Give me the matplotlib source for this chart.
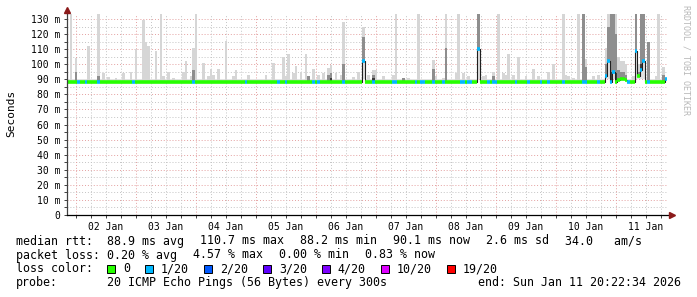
import matplotlib
matplotlib.use("Agg")
import matplotlib.pyplot as plt
import numpy as np

# time is in hours since 01 Jan 00:00
START_H = 20.4
END_H = 260.4
DAY_LABELS = ["02 Jan", "03 Jan", "04 Jan", "05 Jan", "06 Jan",
              "07 Jan", "08 Jan", "09 Jan", "10 Jan", "11 Jan"]
Y_TICKS = [0, 10, 20, 30, 40, 50, 60, 70, 80, 90, 100, 110, 120, 130]

MEDIAN_BASE_MS = 88.4
SMOKE_FLOOR_MS = 90.0

# smoke spikes: max ping, upper dense part, lower dense part (0 = none)
spike_hour = [22.1, 24.0, 29.1, 33.3, 35.2, 37.2, 40.0, 42.7, 45.6, 48.3,
              50.4, 51.6, 53.3, 56.3, 57.6, 58.8, 60.7, 62.4, 67.2, 68.3,
              69.9, 71.3, 72.3, 74.7, 75.3, 77.3, 78.0, 79.2, 81.1, 84.3,
              86.4, 88.3, 93.3, 100.3, 102.9, 106.4, 108.3, 109.3, 110.7, 112.3,
              113.9, 116.3, 117.3, 119.3, 121.3, 122.4, 125.1, 126.3, 128.3, 129.6,
              131.3, 135.3, 137.3, 138.9, 140.7, 142.9, 144.3, 146.4, 151.3, 152.3,
              155.3, 157.1, 161.1, 166.4, 167.1, 168.3, 170.4, 172.3, 176.3, 177.3,
              178.9, 181.1, 185.1, 186.9, 188.3, 191.3, 193.3, 194.7, 195.7, 197.3,
              199.3, 201.3, 204.0, 206.9, 208.7, 213.3, 215.3, 218.7, 219.7, 221.1,
              222.9, 225.3, 227.3, 228.3, 230.4, 233.1, 235.6, 236.9, 238.0, 238.9,
              239.6, 240.9, 241.9, 242.9, 243.9, 246.7, 248.0, 249.0, 250.0, 251.0,
              253.3, 255.7, 257.3, 258.7]
spike_top_ms = [133, 104, 112, 133, 94, 91.5, 91, 94, 95, 110,
                129, 115, 112, 109, 133, 92, 95, 91, 95, 102,
                92, 111, 133, 94, 101, 92, 97, 93, 97, 115.6,
                92, 96, 93, 93, 101, 105, 92, 107, 94, 98.6,
                95, 107, 92, 97, 93, 94, 97.5, 99.7, 94, 93,
                128, 91.5, 95, 125, 93, 96, 96, 92, 93, 133,
                91, 91, 133, 96, 102.6, 92, 91, 133, 94, 133,
                94, 92, 133, 92, 93, 95, 133, 94, 93, 107,
                93, 104.6, 92, 97, 92, 95, 100, 133, 93, 92,
                91, 133, 133, 103.7, 92, 93, 111, 133, 133, 133,
                133, 105, 102, 102, 100, 92, 133, 100, 133, 133,
                115, 92, 133, 98]
spike_mid_ms = [0, 95, 0, 92, 0, 0, 0, 0, 0, 0,
                0, 0, 0, 0, 0, 0, 0, 0, 0, 0,
                0, 96, 0, 0, 0, 0, 0, 0, 0, 0,
                0, 0, 0, 0, 0, 0, 0, 0, 0, 0,
                0, 0, 92, 0, 0, 0, 93, 94, 0, 0,
                100, 0, 0, 118, 0, 93, 0, 0, 0, 0,
                91, 0, 0, 0, 97, 0, 0, 111, 0, 0,
                0, 0, 133, 0, 0, 92, 0, 0, 0, 0,
                0, 0, 0, 0, 0, 0, 0, 0, 0, 0,
                0, 0, 133, 98, 0, 0, 100, 125, 133, 133,
                120, 96, 95, 95, 93, 0, 133, 95, 133, 133,
                115, 0, 0, 93]
spike_dark_ms = [0, 0, 0, 0, 0, 0, 0, 0, 0, 0,
                 0, 0, 0, 0, 0, 0, 0, 0, 0, 0,
                 0, 0, 0, 0, 0, 0, 0, 0, 0, 0,
                 0, 0, 0, 0, 0, 0, 0, 0, 0, 0,
                 0, 0, 0, 0, 0, 0, 0, 91, 0, 0,
                 0, 0, 0, 102, 0, 91, 0, 0, 0, 0,
                 0, 0, 0, 0, 0, 0, 0, 0, 0, 0,
                 0, 0, 110, 0, 0, 0, 0, 0, 0, 0,
                 0, 0, 0, 0, 0, 0, 0, 0, 0, 0,
                 0, 0, 0, 0, 0, 0, 92, 102, 95, 95,
                 94, 0, 0, 0, 0, 0, 109, 0, 100, 102,
                 0, 0, 0, 0]

# bins where the median left the baseline
median_hour = [138.9, 185.1, 235.6, 236.9, 238.0, 238.9, 240.9, 241.9, 242.9, 243.9,
               248.0, 249.0, 250.0, 251.0, 259.6]
median_ms = [102, 110, 92, 102, 88.3, 94.7, 89.5, 90.2, 90.3, 89.8,
             109, 92, 96.4, 102.4, 90.2]

# bins with lost pings (out of 20)
loss_hour = [25.1, 27.7, 33.3, 46.6, 70.6, 92.0, 105.1, 108.0, 118.8, 121.1,
             130.7, 138.9, 143.3, 150.8, 152.0, 160.0, 161.6, 162.8, 166.7, 171.3,
             177.8, 178.7, 180.5, 181.6, 185.1, 189.3, 190.8, 191.8, 200.3, 204.8,
             209.6, 212.4, 218.8, 226.8, 227.9, 233.3, 235.6, 236.9, 238.0, 238.9,
             245.2, 248.0, 250.0, 251.0, 252.7, 259.6]
loss_count = [1] * len(loss_hour)

LOSS_STEPS = [0, 1, 2, 3, 4, 10, 19]
LOSS_COLORS = ["#26ff00", "#00b8ff", "#0059ff", "#5e00ff", "#7e00ff", "#dd00ff", "#ff0000"]
LOSS_LABELS = ["0", "1/20", "2/20", "3/20", "4/20", "10/20", "19/20"]

RTT_ITEMS = ["median rtt:  88.9 ms avg", "110.7 ms max", "88.2 ms min",
             "90.1 ms now", "2.6 ms sd", "34.0   am/s"]
LOSS_ITEMS = ["packet loss: 0.20 % avg", "4.57 % max", "0.00 % min", "0.83 % now"]

MONO = "DejaVu Sans Mono"


def loss_color(count):
    color = LOSS_COLORS[0]
    for step, c in zip(LOSS_STEPS, LOSS_COLORS):
        if count >= step:
            color = c
    return color


def bin_of(h):
    return int(np.floor(h - START_H + 1e-9))


n_bins = int(round(END_H - START_H))
bin_left = START_H + np.arange(n_bins)
median = np.full(n_bins, MEDIAN_BASE_MS)
loss = np.zeros(n_bins, dtype=int)
for h, v in zip(median_hour, median_ms):
    median[bin_of(h)] = v
for h, c in zip(loss_hour, loss_count):
    loss[bin_of(h)] = c

W, H = 697, 297
fig = plt.figure(figsize=(W / 100, H / 100), dpi=100)
fig.patch.set_facecolor("white")
ax = fig.add_axes([67 / W, 82 / H, 600 / W, 201 / H])
ax.set_xlim(START_H, END_H)
ax.set_ylim(0, 133.3)

# grid
minor_col = "#c4c4c4"
major_col = "#e4a0a0"
dots = (0, (1, 2))
for y in np.arange(5, 133, 5):
    ax.axhline(y, color=major_col if y % 10 == 0 else minor_col, lw=0.7, ls=dots, zorder=0)
for h in np.arange(24, END_H, 6):
    ax.axvline(h, color=major_col if h % 24 == 0 else minor_col, lw=0.7, ls=dots, zorder=0)

# smoke
ax.fill_between(np.append(bin_left, END_H), SMOKE_FLOOR_MS, np.append(median, median[-1]),
                step="post", color="#e2e2e2", lw=0, zorder=1)
sb = [bin_of(h) for h in spike_hour]
base = median[sb]
tops = np.array(spike_top_ms)
mids = np.array(spike_mid_ms, dtype=float)
darks = np.array(spike_dark_ms, dtype=float)
ax.bar(bin_left[sb], tops - base, bottom=base, width=1.0, align="edge",
       color="#d6d6d6", lw=0, zorder=2)
m = mids > 0
ax.bar(bin_left[sb][m], mids[m] - base[m], bottom=base[m], width=1.0, align="edge",
       color="#8e8e8e", lw=0, zorder=3)
d = darks > 0
ax.bar(bin_left[sb][d], darks[d] - base[d], bottom=base[d], width=1.0, align="edge",
       color="#3c3c3c", lw=0, zorder=4)

# median line: thin dark step plus loss coloured segments
ax.step(np.append(bin_left, END_H), np.append(median, median[-1]), where="post",
        color="#202020", lw=0.8, zorder=5)
ax.hlines(median, bin_left, bin_left + 1, colors=[loss_color(c) for c in loss],
          lw=2.6, zorder=6, capstyle="butt")

# axes
for s in ax.spines.values():
    s.set_visible(False)
ax.plot([START_H, START_H], [0, 136], color="#404040", lw=0.9, clip_on=False, zorder=7)
ax.plot([START_H, END_H + 1], [0, 0], color="#000000", lw=0.9, clip_on=False, zorder=7)
ax.plot([START_H], [136.2], marker="^", ms=4, color="#8b1a1a", clip_on=False, zorder=8)
ax.plot([END_H + 1.8], [0], marker=">", ms=4, color="#8b1a1a", clip_on=False, zorder=8)

ax.set_yticks(Y_TICKS)
ax.set_yticklabels([f"{v} m" if v else "0" for v in Y_TICKS], fontfamily=MONO, fontsize=7)
ax.set_yticks(np.arange(5, 133, 10), minor=True)
ax.tick_params(axis="y", which="both", length=2, width=0.7, color="#404040", pad=3)
ax.set_xticks(np.arange(24, END_H, 24))
ax.set_xticklabels([])
ax.set_xticks(np.arange(24, END_H, 6), minor=True)
ax.tick_params(axis="x", which="both", length=2, width=0.7, color="#404040")
for h, lab in zip(np.arange(36, END_H, 24), DAY_LABELS):
    ax.text(h, -4.5, lab, ha="center", va="top", fontfamily=MONO, fontsize=7)

fig.text(11 / W, 1 - 113 / H, "Seconds", rotation=90, ha="center", va="center",
         fontfamily=MONO, fontsize=8)
fig.text(686 / W, 1 - 5 / H, "RRDTOOL / TOBI OETIKER", rotation=270, ha="center",
         va="top", fontfamily=MONO, fontsize=6, color="#b8b8b8")

# legend block, rrdtool style: items separated by a fixed gap
fs = 8.37
char_px = 7.0
gap_px = 16.0


def legend_row(items, x, y):
    for item in items:
        fig.text(x / W, 1 - y / H, item, fontfamily=MONO, fontsize=fs, va="center")
        x += len(item) * char_px + gap_px


legend_row(RTT_ITEMS, 16, 241)
legend_row(LOSS_ITEMS, 16, 255)
fig.text(16 / W, 1 - 268.5 / H, "loss color:", fontfamily=MONO, fontsize=fs, va="center")
bx = 107.4
for col, lab in zip(LOSS_COLORS, LOSS_LABELS):
    fig.patches.append(plt.Rectangle((bx / W, 1 - 272.5 / H), 7.5 / W, 8 / H,
                                     transform=fig.transFigure, facecolor=col,
                                     edgecolor="black", lw=0.7))
    fig.text((bx + 15.5) / W, 1 - 268.5 / H, lab, fontfamily=MONO, fontsize=fs, va="center")
    bx += 15.5 + len(lab) * char_px + 15.5
fig.text(16 / W, 1 - 282.5 / H, "probe:", fontfamily=MONO, fontsize=fs, va="center")
fig.text(107 / W, 1 - 282.5 / H, "20 ICMP Echo Pings (56 Bytes) every 300s",
         fontfamily=MONO, fontsize=fs, va="center")
fig.text(681 / W, 1 - 282.5 / H, "end: Sun Jan 11 20:22:34 2026",
         fontfamily=MONO, fontsize=fs, va="center", ha="right")

fig.savefig("out.png", dpi=100)
